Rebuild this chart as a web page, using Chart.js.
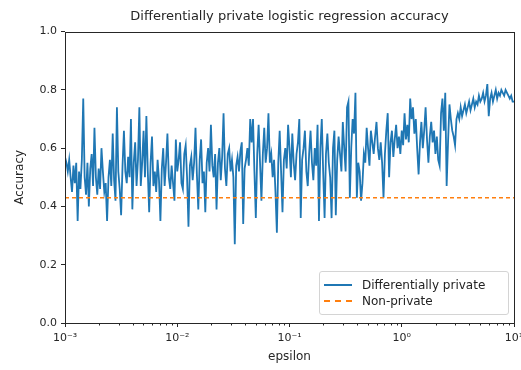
<!DOCTYPE html>
<html>
<head>
<meta charset="utf-8">
<script src="https://cdn.jsdelivr.net/npm/chart.js@4.4.0/dist/chart.umd.min.js"></script>
<style>
  html, body { margin: 0; padding: 0; background: #fff; overflow: hidden; }
  #wrap { position: relative; width: 521px; height: 370px; }
  #legend {
    position: absolute; left: 319px; top: 271px; width: 188px; height: 42px;
    border: 1px solid #d4d4d4; border-radius: 3px; background: rgba(255,255,255,0.85);
    font: 12px "DejaVu Sans", sans-serif; color: #222;
  }
  .row { position: absolute; left: 0; width: 100%; height: 16px; }
  .row span { position: absolute; left: 42px; top: 0; line-height: 16px; white-space: nowrap; }
  .swatch { position: absolute; left: 4px; width: 28px; top: 7px; height: 0; }
</style>
</head>
<body>
<div id="wrap">
  <canvas id="c" width="521" height="370"></canvas>
  <div id="legend">
    <div class="row" style="top:5px"><div class="swatch" style="border-top:2px solid #1f77b4"></div><span>Differentially private</span></div>
    <div class="row" style="top:21px"><div class="swatch" style="border-top:2px dashed #ff7f0e"></div><span>Non-private</span></div>
  </div>
</div>
<script>
// epsilon grid, log spaced from 1e-3 to 1e1
const epsilon = [
  1.000e-3, 1.029e-3, 1.059e-3, 1.090e-3, 1.122e-3, 1.155e-3, 1.189e-3, 1.223e-3, 1.259e-3, 1.296e-3,
  1.334e-3, 1.372e-3, 1.413e-3, 1.454e-3, 1.496e-3, 1.540e-3, 1.585e-3, 1.631e-3, 1.679e-3, 1.728e-3,
  1.778e-3, 1.830e-3, 1.884e-3, 1.939e-3, 1.995e-3, 2.054e-3, 2.113e-3, 2.175e-3, 2.239e-3, 2.304e-3,
  2.371e-3, 2.441e-3, 2.512e-3, 2.585e-3, 2.661e-3, 2.738e-3, 2.818e-3, 2.901e-3, 2.985e-3, 3.073e-3,
  3.162e-3, 3.255e-3, 3.350e-3, 3.447e-3, 3.548e-3, 3.652e-3, 3.758e-3, 3.868e-3, 3.981e-3, 4.097e-3,
  4.217e-3, 4.340e-3, 4.467e-3, 4.597e-3, 4.732e-3, 4.870e-3, 5.012e-3, 5.158e-3, 5.309e-3, 5.464e-3,
  5.623e-3, 5.788e-3, 5.957e-3, 6.131e-3, 6.310e-3, 6.494e-3, 6.683e-3, 6.879e-3, 7.079e-3, 7.286e-3,
  7.499e-3, 7.718e-3, 7.943e-3, 8.175e-3, 8.414e-3, 8.660e-3, 8.913e-3, 9.173e-3, 9.441e-3, 9.716e-3,
  1.000e-2, 1.029e-2, 1.059e-2, 1.090e-2, 1.122e-2, 1.155e-2, 1.189e-2, 1.223e-2, 1.259e-2, 1.296e-2,
  1.334e-2, 1.372e-2, 1.413e-2, 1.454e-2, 1.496e-2, 1.540e-2, 1.585e-2, 1.631e-2, 1.679e-2, 1.728e-2,
  1.778e-2, 1.830e-2, 1.884e-2, 1.939e-2, 1.995e-2, 2.054e-2, 2.113e-2, 2.175e-2, 2.239e-2, 2.304e-2,
  2.371e-2, 2.441e-2, 2.512e-2, 2.585e-2, 2.661e-2, 2.738e-2, 2.818e-2, 2.901e-2, 2.985e-2, 3.073e-2,
  3.162e-2, 3.255e-2, 3.350e-2, 3.447e-2, 3.548e-2, 3.652e-2, 3.758e-2, 3.868e-2, 3.981e-2, 4.097e-2,
  4.217e-2, 4.340e-2, 4.467e-2, 4.597e-2, 4.732e-2, 4.870e-2, 5.012e-2, 5.158e-2, 5.309e-2, 5.464e-2,
  5.623e-2, 5.788e-2, 5.957e-2, 6.131e-2, 6.310e-2, 6.494e-2, 6.683e-2, 6.879e-2, 7.079e-2, 7.286e-2,
  7.499e-2, 7.718e-2, 7.943e-2, 8.175e-2, 8.414e-2, 8.660e-2, 8.913e-2, 9.173e-2, 9.441e-2, 9.716e-2,
  1.000e-1, 1.029e-1, 1.059e-1, 1.090e-1, 1.122e-1, 1.155e-1, 1.189e-1, 1.223e-1, 1.259e-1, 1.296e-1,
  1.334e-1, 1.372e-1, 1.413e-1, 1.454e-1, 1.496e-1, 1.540e-1, 1.585e-1, 1.631e-1, 1.679e-1, 1.728e-1,
  1.778e-1, 1.830e-1, 1.884e-1, 1.939e-1, 1.995e-1, 2.054e-1, 2.113e-1, 2.175e-1, 2.239e-1, 2.304e-1,
  2.371e-1, 2.441e-1, 2.512e-1, 2.585e-1, 2.661e-1, 2.738e-1, 2.818e-1, 2.901e-1, 2.985e-1, 3.073e-1,
  3.162e-1, 3.255e-1, 3.350e-1, 3.447e-1, 3.548e-1, 3.652e-1, 3.758e-1, 3.868e-1, 3.981e-1, 4.097e-1,
  4.217e-1, 4.340e-1, 4.467e-1, 4.597e-1, 4.732e-1, 4.870e-1, 5.012e-1, 5.158e-1, 5.309e-1, 5.464e-1,
  5.623e-1, 5.788e-1, 5.957e-1, 6.131e-1, 6.310e-1, 6.494e-1, 6.683e-1, 6.879e-1, 7.079e-1, 7.286e-1,
  7.499e-1, 7.718e-1, 7.943e-1, 8.175e-1, 8.414e-1, 8.660e-1, 8.913e-1, 9.173e-1, 9.441e-1, 9.716e-1,
  1.000, 1.029, 1.059, 1.090, 1.122, 1.155, 1.189, 1.223, 1.259, 1.296,
  1.334, 1.372, 1.413, 1.454, 1.496, 1.540, 1.585, 1.631, 1.679, 1.728,
  1.778, 1.830, 1.884, 1.939, 1.995, 2.054, 2.113, 2.175, 2.239, 2.304,
  2.371, 2.441, 2.512, 2.585, 2.661, 2.738, 2.818, 2.901, 2.985, 3.073,
  3.162, 3.255, 3.350, 3.447, 3.548, 3.652, 3.758, 3.868, 3.981, 4.097,
  4.217, 4.340, 4.467, 4.597, 4.732, 4.870, 5.012, 5.158, 5.309, 5.464,
  5.623, 5.788, 5.957, 6.131, 6.310, 6.494, 6.683, 6.879, 7.079, 7.286,
  7.499, 7.718, 7.943, 8.175, 8.414, 8.660, 8.913, 9.173, 9.441, 9.716,
  10.0
];

// accuracy of the private model at each epsilon
const dpAccuracy = [
  0.57, 0.55, 0.52, 0.56, 0.50, 0.45, 0.54, 0.48, 0.55, 0.35, 0.52, 0.46, 0.56, 0.77, 0.50, 0.44, 0.55, 0.40, 0.53, 0.58,
  0.47, 0.67, 0.50, 0.44, 0.53, 0.46, 0.60, 0.52, 0.45, 0.48, 0.35, 0.50, 0.56, 0.47, 0.65, 0.49, 0.42, 0.74, 0.52, 0.46,
  0.37, 0.54, 0.66, 0.52, 0.48, 0.57, 0.50, 0.70, 0.39, 0.55, 0.62, 0.47, 0.56, 0.74, 0.47, 0.55, 0.66, 0.50, 0.71, 0.52,
  0.38, 0.55, 0.64, 0.47, 0.52, 0.45, 0.56, 0.49, 0.35, 0.53, 0.60, 0.47, 0.55, 0.65, 0.50, 0.46, 0.54, 0.48, 0.42, 0.63,
  0.52, 0.56, 0.62, 0.48, 0.46, 0.58, 0.61, 0.50, 0.33, 0.54, 0.57, 0.49, 0.55, 0.67, 0.51, 0.39, 0.56, 0.63, 0.48, 0.52,
  0.38, 0.55, 0.60, 0.52, 0.68, 0.54, 0.50, 0.58, 0.39, 0.55, 0.60, 0.49, 0.57, 0.72, 0.53, 0.47, 0.58, 0.60, 0.52, 0.56,
  0.50, 0.27, 0.54, 0.57, 0.52, 0.59, 0.62, 0.34, 0.53, 0.56, 0.60, 0.54, 0.70, 0.62, 0.70, 0.52, 0.36, 0.58, 0.68, 0.55,
  0.42, 0.58, 0.67, 0.55, 0.60, 0.72, 0.55, 0.58, 0.50, 0.56, 0.45, 0.31, 0.55, 0.66, 0.52, 0.38, 0.56, 0.60, 0.53, 0.68,
  0.60, 0.50, 0.65, 0.55, 0.49, 0.58, 0.62, 0.70, 0.36, 0.56, 0.60, 0.66, 0.52, 0.47, 0.58, 0.66, 0.55, 0.49, 0.60, 0.54,
  0.68, 0.35, 0.60, 0.70, 0.52, 0.36, 0.58, 0.65, 0.55, 0.50, 0.36, 0.60, 0.66, 0.37, 0.56, 0.64, 0.58, 0.52, 0.69, 0.60,
  0.52, 0.74, 0.76, 0.43, 0.60, 0.70, 0.65, 0.79, 0.43, 0.55, 0.52, 0.42, 0.48, 0.58, 0.55, 0.67, 0.60, 0.54, 0.66, 0.62,
  0.58, 0.64, 0.69, 0.60, 0.56, 0.62, 0.55, 0.43, 0.58, 0.66, 0.72, 0.50, 0.62, 0.66, 0.57, 0.63, 0.68, 0.60, 0.64, 0.58,
  0.66, 0.61, 0.72, 0.63, 0.68, 0.62, 0.77, 0.70, 0.74, 0.65, 0.70, 0.60, 0.51, 0.62, 0.69, 0.60, 0.66, 0.74, 0.63, 0.55,
  0.64, 0.69, 0.62, 0.66, 0.58, 0.64, 0.56, 0.54, 0.72, 0.77, 0.66, 0.79, 0.47, 0.62, 0.75, 0.70, 0.66, 0.64, 0.61, 0.70,
  0.72, 0.70, 0.74, 0.71, 0.73, 0.75, 0.72, 0.74, 0.76, 0.73, 0.75, 0.77, 0.74, 0.76, 0.75, 0.78, 0.76, 0.77, 0.79, 0.76,
  0.78, 0.82, 0.71, 0.77, 0.79, 0.76, 0.78, 0.80, 0.77, 0.79, 0.78, 0.80, 0.79, 0.78, 0.80, 0.79, 0.78, 0.77, 0.78, 0.76,
  0.76
];

const nonPrivateAccuracy = 0.43;
const epsRange = [1e-3, 10];

const xTickValues = [1e-3, 1e-2, 1e-1, 1, 10];
const xTickLabels = ['10⁻³', '10⁻²', '10⁻¹', '10⁰', '10¹'];
const yTickValues = [0, 0.2, 0.4, 0.6, 0.8, 1.0];

const FONT = '"DejaVu Sans", sans-serif';
const INK = '#262626';

// frame on all four sides + log minor ticks
const framePlugin = {
  id: 'frame',
  afterDraw(chart) {
    const {ctx, chartArea: a, scales} = chart;
    ctx.save();
    ctx.strokeStyle = INK;
    ctx.lineWidth = 1;
    ctx.beginPath();
    for (let d = -3; d < 1; d++) {
      for (let m = 2; m <= 9; m++) {
        const px = Math.round(scales.x.getPixelForValue(m * Math.pow(10, d))) + 0.5;
        ctx.moveTo(px, a.bottom);
        ctx.lineTo(px, a.bottom + 2.5);
      }
    }
    ctx.stroke();
    ctx.strokeRect(Math.round(a.left) + 0.5, Math.round(a.top) + 0.5,
      Math.round(a.right - a.left), Math.round(a.bottom - a.top));
    ctx.restore();
  }
};

new Chart(document.getElementById('c'), {
  type: 'line',
  data: {
    datasets: [
      {
        label: 'Differentially private',
        data: epsilon.map((e, i) => ({x: e, y: dpAccuracy[i]})),
        borderColor: '#1f77b4',
        borderWidth: 1.8,
        pointRadius: 0,
        tension: 0,
        order: 1
      },
      {
        label: 'Non-private',
        data: epsRange.map(e => ({x: e, y: nonPrivateAccuracy})),
        borderColor: '#ff7f0e',
        borderWidth: 1.6,
        borderDash: [4, 3],
        pointRadius: 0,
        order: 0
      }
    ]
  },
  options: {
    responsive: false,
    animation: false,
    layout: {padding: {left: 0, right: 7, top: 0, bottom: 6}},
    plugins: {
      legend: {display: false},
      tooltip: {enabled: false},
      title: {
        display: true,
        fullSize: false,
        text: 'Differentially private logistic regression accuracy',
        color: INK,
        font: {family: FONT, size: 13, weight: 'normal'},
        padding: {top: 9, bottom: 7}
      }
    },
    scales: {
      x: {
        type: 'logarithmic',
        min: epsRange[0],
        max: epsRange[1],
        afterBuildTicks: s => { s.ticks = xTickValues.map(v => ({value: v})); },
        afterFit: s => { s.height = 41; s.paddingLeft = 0; s.paddingRight = 0; },
        ticks: {
          color: INK,
          font: {family: FONT, size: 11},
          padding: 5,
          maxRotation: 0,
          autoSkip: false,
          callback: v => xTickLabels[xTickValues.indexOf(v)] ?? ''
        },
        grid: {display: true, drawOnChartArea: false, tickLength: 4, tickColor: INK},
        border: {display: false},
        title: {display: true, text: 'epsilon', color: INK,
          font: {family: FONT, size: 12}, padding: {top: 0, bottom: 0}}
      },
      y: {
        type: 'linear',
        min: 0,
        max: 1,
        afterBuildTicks: s => { s.ticks = yTickValues.map(v => ({value: v})); },
        afterFit: s => { s.width = 65; s.paddingTop = 0; s.paddingBottom = 0; },
        ticks: {
          color: INK,
          font: {family: FONT, size: 11},
          padding: 4,
          callback: v => v.toFixed(1)
        },
        grid: {display: true, drawOnChartArea: false, tickLength: 4, tickColor: INK},
        border: {display: false},
        title: {display: true, text: 'Accuracy', color: INK,
          font: {family: FONT, size: 12}, padding: {top: 13, bottom: 0}}
      }
    }
  },
  plugins: [framePlugin]
});
</script>
</body>
</html>
